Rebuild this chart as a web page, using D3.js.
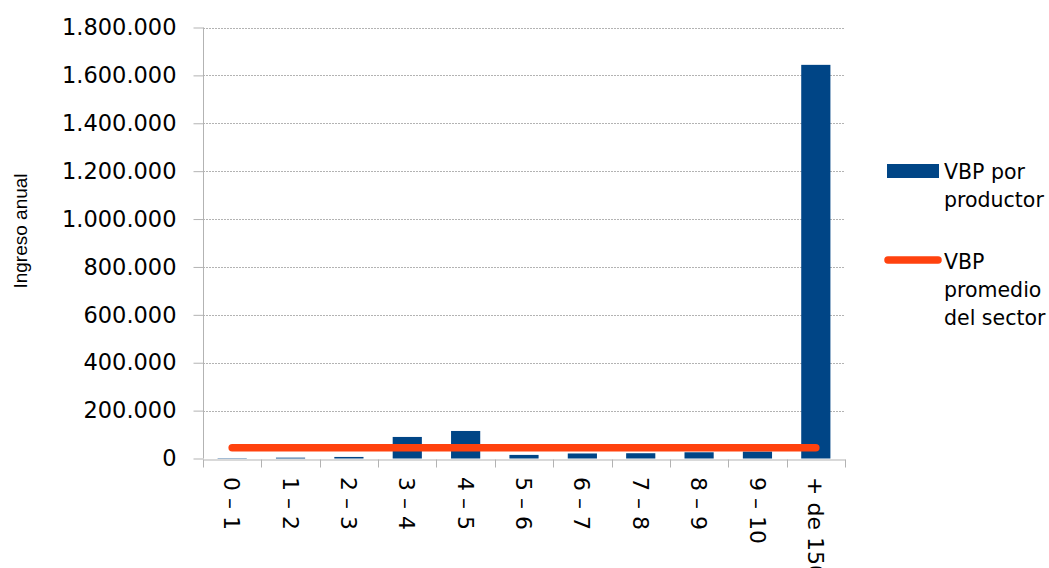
<!DOCTYPE html>
<html lang="es">
<head>
    <meta charset="UTF-8">
    <title>VBP por productor</title>
    <script src="https://d3js.org/d3.v7.min.js"></script>
    <style>
        body { margin: 0; background: #fff; }
        text { font-family: "DejaVu Sans", Verdana, sans-serif; fill: #000; }
        .grid line { stroke: #b3b3b3; stroke-width: 1; stroke-dasharray: 2 1; }
        .axis path, .axis line { stroke: #b3b3b3; }
    </style>
</head>
<body>
<script>
    const width = 1049;
    const height = 568;

    // categorías (estratos)
    const categories = ["0 – 1", "1 – 2", "2 – 3", "3 – 4", "4 – 5", "5 – 6",
                        "6 – 7", "7 – 8", "8 – 9", "9 – 10", "+ de 150"];
    // VBP por productor
    const vbpProductor = [1500, 3500, 6500, 90000, 115000, 15000,
                          21000, 22000, 26000, 29000, 1644000];
    // VBP promedio del sector
    const vbpPromedio = [45000, 45000, 45000, 45000, 45000, 45000,
                         45000, 45000, 45000, 45000, 45000];
    const yTicks = [0, 200000, 400000, 600000, 800000, 1000000,
                    1200000, 1400000, 1600000, 1800000];
    const legendItems = [
        { type: "bar", lines: ["VBP por", "productor"] },
        { type: "line", lines: ["VBP", "promedio", "del sector"] }
    ];

    const barColor = "#004586";
    const lineColor = "#ff420e";

    const m = { left: 203, right: 845, top: 27.5, bottom: 458.5 };

    const fmt = d3.formatLocale({ decimal: ",", thousands: ".", grouping: [3], currency: ["$", ""] }).format(",");

    const x = d3.scaleBand().domain(categories).range([m.left, m.right]).paddingInner(0.5).paddingOuter(0.25);
    const xb = d3.scaleBand().domain(categories).range([m.left, m.right]);
    const y = d3.scaleLinear().domain([0, 1800000]).range([m.bottom, m.top]);

    const svg = d3.select("body").append("svg")
        .attr("width", width)
        .attr("height", height);

    // líneas de cuadrícula
    svg.append("g").attr("class", "grid")
        .selectAll("line")
        .data(yTicks.filter(d => d > 0))
        .enter().append("line")
        .attr("x1", m.left).attr("x2", m.right)
        .attr("y1", d => Math.round(y(d)) + 0.5)
        .attr("y2", d => Math.round(y(d)) + 0.5);

    // barras
    svg.append("g")
        .selectAll("rect")
        .data(vbpProductor)
        .enter().append("rect")
        .attr("x", (d, i) => x(categories[i]))
        .attr("width", x.bandwidth())
        .attr("y", d => y(d))
        .attr("height", d => y(0) - y(d))
        .attr("fill", barColor);

    // eje Y
    const yAxis = svg.append("g").attr("class", "axis")
        .attr("transform", `translate(${m.left + 0.5},0)`)
        .call(d3.axisLeft(y).tickValues(yTicks).tickFormat(fmt).tickSize(10).tickSizeOuter(0).tickPadding(17));
    yAxis.selectAll("text").style("font-size", "22.5px").attr("fill", "#000");
    yAxis.select(".domain").attr("d", `M0,${y(1800000)}V${y(0)}`);

    // eje X
    const xAxis = svg.append("g").attr("class", "axis")
        .attr("transform", `translate(0,${Math.round(y(0)) + 0.5})`)
        .call(d3.axisBottom(xb).tickSize(0).tickSizeOuter(0).tickFormat(""));
    xAxis.selectAll(".tick").remove();
    xAxis.selectAll(".sep")
        .data(categories.concat(["_end"]))
        .enter().append("line")
        .attr("class", "sep")
        .attr("x1", (d, i) => Math.round(m.left + i * xb.bandwidth()) + 0.5)
        .attr("x2", (d, i) => Math.round(m.left + i * xb.bandwidth()) + 0.5)
        .attr("y1", 0).attr("y2", 8);

    svg.append("g")
        .selectAll("text")
        .data(categories)
        .enter().append("text")
        .attr("transform", d => `translate(${xb(d) + xb.bandwidth() / 2},477) rotate(90)`)
        .attr("dy", "0.36em")
        .style("font-size", "22px")
        .text(d => d);

    // línea de promedio
    const line = d3.line()
        .x((d, i) => xb(categories[i]) + xb.bandwidth() / 2)
        .y(d => y(d));
    svg.append("path")
        .datum(vbpPromedio)
        .attr("d", line)
        .attr("fill", "none")
        .attr("stroke", lineColor)
        .attr("stroke-width", 7.5)
        .attr("stroke-linecap", "round");

    // título eje Y
    svg.append("text")
        .attr("transform", "translate(27,231) rotate(-90)")
        .attr("text-anchor", "middle")
        .style("font-family", "'Liberation Sans', Arial, sans-serif")
        .style("font-size", "19px")
        .text("Ingreso anual");

    // leyenda
    const lg = svg.append("g");
    const legendTop = [179, 269];
    legendItems.forEach((item, k) => {
        const g = lg.append("g");
        if (item.type === "bar") {
            g.append("rect")
                .attr("x", 887).attr("y", 164)
                .attr("width", 52).attr("height", 14)
                .attr("fill", barColor);
        } else {
            g.append("line")
                .attr("x1", 888).attr("x2", 938)
                .attr("y1", 260).attr("y2", 260)
                .attr("stroke", lineColor)
                .attr("stroke-width", 7.5)
                .attr("stroke-linecap", "round");
        }
        g.selectAll("text")
            .data(item.lines)
            .enter().append("text")
            .attr("x", 944)
            .attr("y", (d, i) => legendTop[k] + i * 28)
            .style("font-size", "20.5px")
            .text(d => d);
    });
</script>
</body>
</html>
